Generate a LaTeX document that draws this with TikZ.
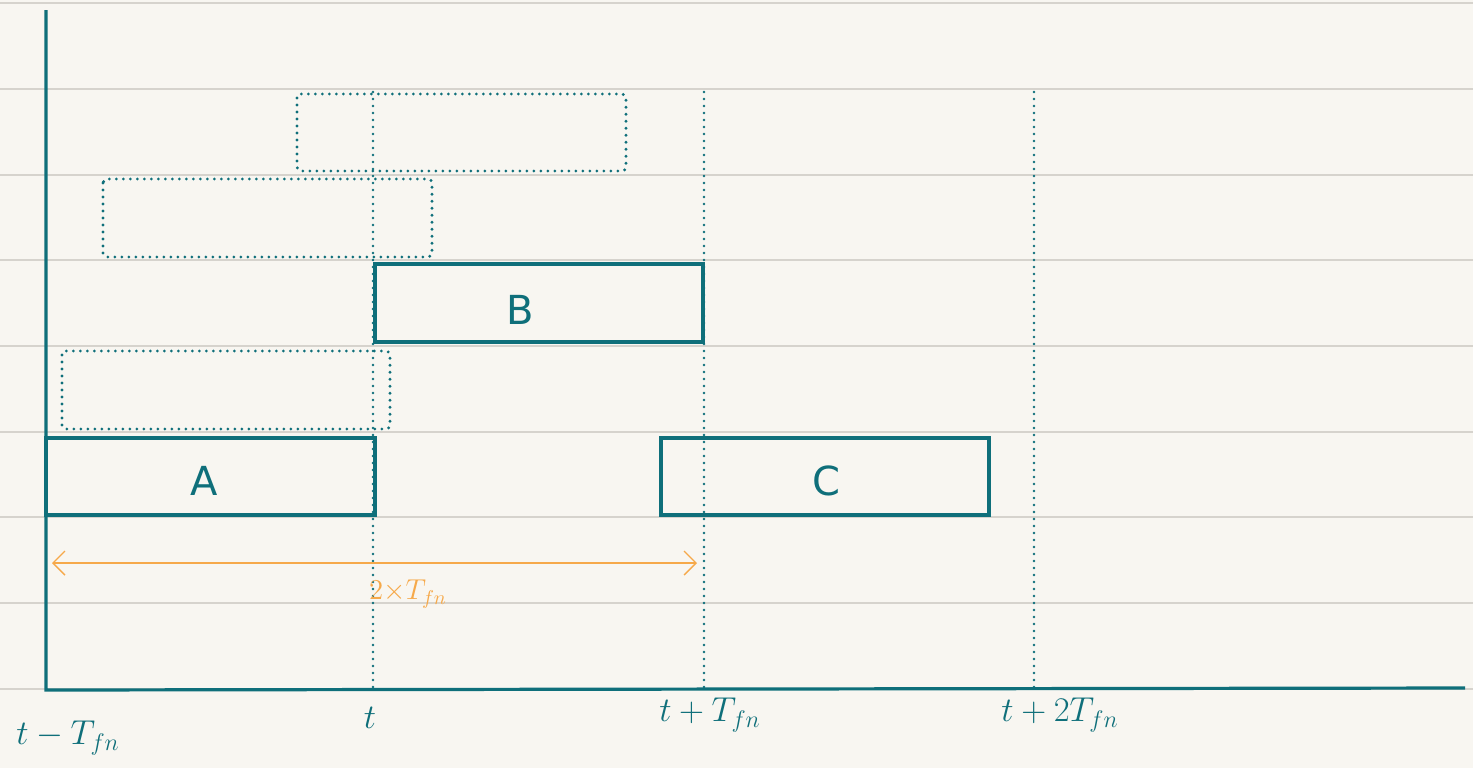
\documentclass[tikz,border=0pt]{standalone}
\usepackage{fontspec}
\setmainfont{DejaVu Sans}
\usetikzlibrary{arrows.meta}
\definecolor{paper}{HTML}{F8F6F1}
\definecolor{rule}{HTML}{D6D3CD}
\definecolor{teal}{HTML}{0F6F7A}
\definecolor{orng}{HTML}{F6A94A}
\tikzset{
  axis/.style={teal, line width=1.6pt},
  solidbox/.style={draw=teal, line width=1.6pt, inner sep=0pt, outer sep=0pt, anchor=north west},
  dotty/.style={line cap=round, dash pattern=on 0pt off 3.5pt, line width=1.6pt},
  dotbox/.style={draw=teal, dotty, rounded corners=2pt},
  guide/.style={teal, dotty, line width=1.4pt},
  hand/.style={text=teal, font=\fontsize{20}{24}\selectfont},
  lbl/.style={text=teal, font=\fontsize{17}{20}\selectfont},
}
\begin{document}
\begin{tikzpicture}[x=0.5pt,y=-0.5pt]
\useasboundingbox (0,0) rectangle (1473,768);
\fill[paper] (0,0) rectangle (1473,768);
\foreach \yy in {3,89,175,260,346,432,517,603,689}
  \draw[rule, line width=0.6pt] (0,\yy) -- (1473,\yy);
% guides
\coordinate (g1t) at (373,92); \coordinate (g1b) at (373,690);
\coordinate (g2t) at (704,92); \coordinate (g2b) at (704,690);
\coordinate (g3t) at (1034,92); \coordinate (g3b) at (1034,690);
\draw[guide] (g1t) -- (g1b);
\draw[guide] (g2t) -- (g2b);
\draw[guide] (g3t) -- (g3b);
% dotted boxes
\draw[dotbox] (62,351) rectangle (390,429);
\draw[dotbox] (103,179) rectangle (432,257);
\draw[dotbox] (297,94) rectangle (626,171);
% solid boxes
\node[solidbox, minimum width=164.5pt, minimum height=38.5pt] (A) at (46,438) {};
\node[solidbox, minimum width=164pt, minimum height=39pt] (B) at (375,264) {};
\node[solidbox, minimum width=164pt, minimum height=38.5pt] (C) at (661,438) {};
\node[hand] (Alab) at (204,481) {A};
\node[hand] (Blab) at (520,310) {B};
\node[hand] (Clab) at (826,481) {C};
% axes
\coordinate (o) at (46,690);
\coordinate (ytop) at (46,10);
\coordinate (xend) at (1465,688);
\draw[axis] (ytop) -- (o) -- (xend);
% orange span
\coordinate (sl) at (52,563);
\coordinate (sr) at (697,563);
\draw[orng, line width=0.7pt, {Straight Barb[length=6pt,width=12pt]}-{Straight Barb[length=6pt,width=12pt]}] (sl) -- (sr);
\node[text=orng, font=\fontsize{14}{16}\selectfont] (span) at (408,594) {$2{\times}T_{fn}$};
% tick labels
\node[lbl] (l0) at (68,738) {$t-T_{fn}$};
\node[lbl] (l1) at (370,718) {$t$};
\node[lbl] (l2) at (710,715) {$t+T_{fn}$};
\node[lbl] (l3) at (1060,715) {$t+2T_{fn}$};
\end{tikzpicture}
\end{document}
